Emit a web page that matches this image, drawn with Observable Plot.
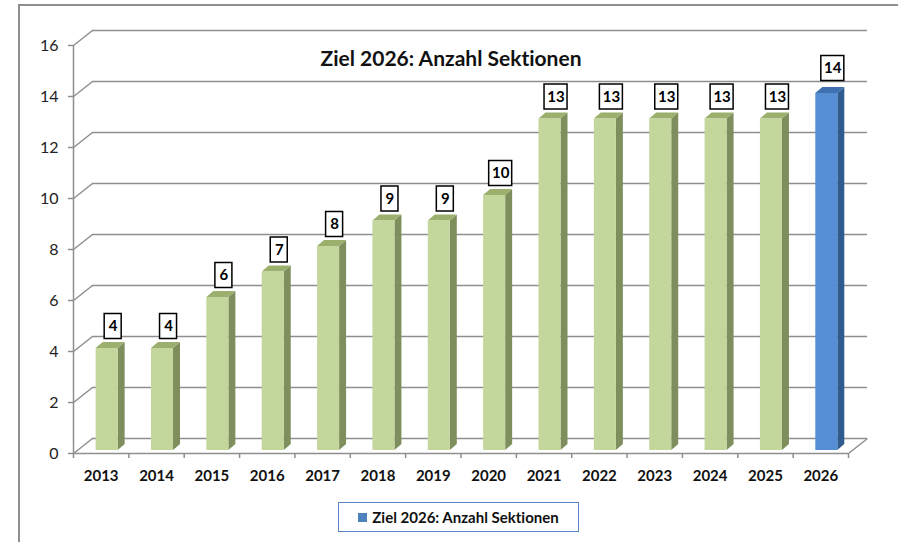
<!DOCTYPE html>
<html><head><meta charset="utf-8">
<script src="https://cdn.jsdelivr.net/npm/d3@7"></script>
<script src="https://cdn.jsdelivr.net/npm/@observablehq/plot@0.6"></script>
<style>
html,body{margin:0;padding:0;background:#fff;}
#wrap{position:relative;width:898px;height:542px;overflow:hidden;font-family:Lato,"Open Sans",sans-serif;font-variant-ligatures:none;}
#chart{position:absolute;left:0;top:0;}
#chart svg{font-variant-ligatures:none;}
#frame{position:absolute;left:18px;top:4px;width:900px;height:600px;border-left:2px solid #8e8e8e;border-top:2px solid #8e8e8e;}
#title{position:absolute;left:0;width:902px;top:45px;text-align:center;font-weight:bold;font-size:21px;color:#111;line-height:26px;}
#legend{position:absolute;left:338px;top:502px;width:239px;height:28px;border:1.5px solid #5b86c5;display:flex;align-items:center;justify-content:center;font-weight:bold;font-size:15px;color:#111;}
#legend .sw{display:inline-block;width:9px;height:9px;background:#4f81bd;margin-right:5px;}
</style>
</head><body>
<div id="wrap">
  <div id="chart"></div>
  <div id="frame"></div>
  <div id="title"></div>
  <div id="legend"><span class="sw"></span><span id="legtext"></span></div>
</div>
<script>
const titleText = "Ziel 2026: Anzahl Sektionen";
const legendLabel = "Ziel 2026: Anzahl Sektionen";
const years = [2013, 2014, 2015, 2016, 2017, 2018, 2019, 2020, 2021, 2022, 2023, 2024, 2025, 2026];
const values = [4, 4, 6, 7, 8, 9, 9, 10, 13, 13, 13, 13, 13, 14];
const isTarget = [false, false, false, false, false, false, false, false, false, false, false, false, false, true];
const yTicks = [0, 2, 4, 6, 8, 10, 12, 14, 16];

document.getElementById("title").textContent = titleText;
document.getElementById("legtext").textContent = legendLabel;

const data = years.map((year, i) => ({year, value: values[i], target: isTarget[i]}));

// 3D depth constants (in data units)
const X0 = years[0] - 0.5, X1 = years[years.length - 1] + 0.5;
const WDX = 0.343, WDY = 0.588;       // back wall offset
const BS = 0.108, BH = 0.199, BY = 0.118; // bar shift, half width, lift
const BDX = 0.126, BDY = 0.235;       // bar depth

const grid = "#8e8e8e";
const styles = [
  {target: false, front: "#c3d69b", side: "#7e8e5c", top: "#9cb06e", labelDy: -25},
  {target: true, front: "#558ed5", side: "#2f5b8e", top: "#3f70b0", labelDy: -28}
];

const boundaries = d3.range(X0, X1 + 0.01, 1);

const marks = [];
// back wall gridlines
marks.push(Plot.ruleY(yTicks, {y: d => d + WDY, x1: X0 + WDX, x2: X1 + WDX, stroke: grid, strokeWidth: 1.5}));
// left wall diagonals
marks.push(Plot.link(yTicks, {x1: X0, y1: d => d, x2: X0 + WDX, y2: d => d + WDY, stroke: grid, strokeWidth: 1.5}));
// floor front edge and right diagonal
marks.push(Plot.ruleY([0], {x1: X0, x2: X1, stroke: grid, strokeWidth: 1.5}));
marks.push(Plot.link([0], {x1: X1, y1: 0, x2: X1 + WDX, y2: WDY, stroke: grid, strokeWidth: 1.5}));
// y axis line
marks.push(Plot.ruleX([X0], {y1: 0, y2: yTicks[yTicks.length - 1], stroke: grid, strokeWidth: 1.5}));

for (const s of styles) {
  const sub = data.filter(d => d.target === s.target);
  const sidePts = sub.flatMap(d => {
    const xr = d.year + BS + BH;
    return [
      {year: d.year, x: xr, y1: BY, y2: d.value + BY},
      {year: d.year, x: xr + BDX, y1: BY + BDY, y2: d.value + BY + BDY}
    ];
  });
  const topPts = sub.flatMap(d => {
    const xl = d.year + BS - BH, xr = d.year + BS + BH;
    return [
      {year: d.year, y: d.value + BY, x1: xl, x2: xr},
      {year: d.year, y: d.value + BY + BDY, x1: xl + BDX, x2: xr + BDX}
    ];
  });
  marks.push(Plot.areaY(sidePts, {x: "x", y1: "y1", y2: "y2", z: "year", fill: s.side}));
  marks.push(Plot.areaX(topPts, {y: "y", x1: "x1", x2: "x2", z: "year", fill: s.top}));
  marks.push(Plot.rectY(sub, {x1: d => d.year + BS - BH, x2: d => d.year + BS + BH, y1: BY, y2: d => d.value + BY, fill: s.front}));
  // data label boxes
  const one = sub.filter(d => String(d.value).length === 1);
  const two = sub.filter(d => String(d.value).length > 1);
  marks.push(Plot.rect(one, {x1: "year", x2: "year", y1: "value", y2: "value", dx: 12, dy: s.labelDy,
    insetLeft: -8.5, insetRight: -8.5, insetTop: -12.5, insetBottom: -12.5, fill: "white", stroke: "black", strokeWidth: 1.5}));
  marks.push(Plot.rect(two, {x1: "year", x2: "year", y1: "value", y2: "value", dx: 12, dy: s.labelDy,
    insetLeft: -11.5, insetRight: -11.5, insetTop: -12.5, insetBottom: -12.5, fill: "white", stroke: "black", strokeWidth: 1.5}));
  marks.push(Plot.text(sub, {x: "year", y: "value", text: d => String(d.value), dx: 12, dy: s.labelDy,
    fontWeight: "bold", fontSize: 15, fill: "#000"}));
}

// axes
marks.push(Plot.axisY(yTicks, {tickSize: 5, tickPadding: 10, fontSize: 16, stroke: grid, fill: "#222", strokeWidth: 1.5}));
marks.push(Plot.axisX(boundaries, {tickSize: 5, tickFormat: () => "", stroke: grid, strokeWidth: 1.5}));
marks.push(Plot.axisX(years, {tickSize: 0, tickPadding: 17, tickFormat: d => String(d), fontWeight: "bold", fontSize: 15, fill: "#111"}));

const chart = Plot.plot({
  width: 898,
  height: 542,
  marginLeft: 73,
  marginRight: 50,
  marginTop: 45,
  marginBottom: 89,
  x: {domain: [X0, X1]},
  y: {domain: [0, 16]},
  style: {fontFamily: "Lato, 'Open Sans', sans-serif", background: "transparent"},
  marks
});
document.getElementById("chart").appendChild(chart);
</script>
</body></html>
